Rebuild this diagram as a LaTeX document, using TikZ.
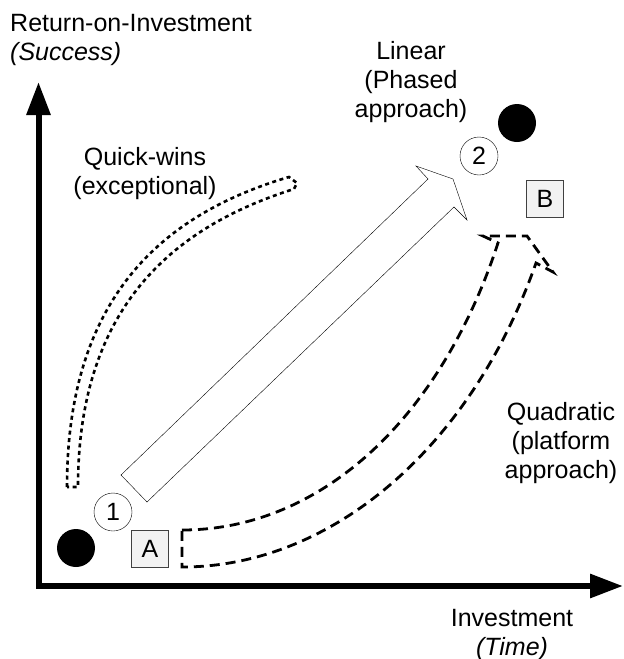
\documentclass[tikz,border=0pt]{standalone}
\usepackage{fontspec}
\setmainfont{Liberation Sans}
\usetikzlibrary{positioning}
\usetikzlibrary{arrows.meta}

\begin{document}
\begin{tikzpicture}[x=1pt, y=-1pt, font=\fontsize{25}{29}\selectfont,
axis/.style={line width=6pt, line join=miter},
dot/.style={circle, fill=black, inner sep=0pt, minimum size=38pt},
num/.style={circle, draw, thin, inner sep=0pt, minimum size=38pt},
tag/.style={draw=black!75, fill=black!5, thin, inner sep=0pt, minimum size=37pt},
lbl/.style={align=center, anchor=base, inner sep=0pt},
quick/.style={line width=2.6pt, dash pattern=on 4pt off 3.5pt},
quad/.style={line width=2.8pt, dash pattern=on 10pt off 6pt, line join=miter}]
\useasboundingbox (0,0) rectangle (624,659);

% axes
\coordinate (ytop) at (38.5,82);
\coordinate (origin) at (38.5,586);
\coordinate (xend) at (623,586);
\draw [axis, {Triangle[length=33pt,width=23pt]}-{Triangle[length=33pt,width=23pt]}] (ytop) -- (origin) -- (xend);

% labels sit on the baseline of their last line
\node [lbl, align=left, anchor=base west] (yl) at (10,60) {Return-on-Investment\\\textit{(Success)}};
\node [lbl] (xl) at (512,655) {Investment\\\textit{(Time)}};

% quick-wins
\coordinate (qa) at (67,487);
\coordinate (qb) at (289,177);
\coordinate (qtip) at (297,183);
\coordinate (qc) at (294,189);
\coordinate (qd) at (78,487);
\draw [quick] (qa) .. controls (67,300) and (160,215) .. (qb) -- (qtip) -- (qc)
  .. controls (170,228) and (78,310) .. (qd) -- cycle;
\node [lbl] (ql) at (145,194) {Quick-wins\\(exceptional)};

% linear
\coordinate (la) at (121,475);
\coordinate (lb) at (428,179);
\coordinate (lc) at (416,166);
\coordinate (ltip) at (453,179);
\coordinate (ld) at (467,220);
\coordinate (le) at (454,207);
\coordinate (lf) at (147,502);
\draw [thin, fill=white] (la) -- (lb) -- (lc) -- (ltip) -- (ld) -- (le) -- (lf) -- cycle;
\node [lbl] (ll) at (411,117) {Linear\\(Phased\\approach)};

% quadratic
\coordinate (ka) at (182,530);
\coordinate (kb) at (498,243);
\coordinate (kc) at (483,236);
\coordinate (kd) at (527,236);
\coordinate (ke) at (553,272);
\coordinate (kf) at (536,263);
\coordinate (kg) at (182,567);
\draw [quad] (ka) .. controls (320,530) and (440,420) .. (kb) -- (kc) -- (kd) -- (ke) -- (kf)
  .. controls (470,450) and (330,567) .. (kg) -- cycle;
\node [lbl] (kl) at (561,478) {Quadratic\\(platform\\approach)};

% markers
\node [dot] (dotA) at (76,548) {};
\node [dot] (dotB) at (517,123) {};
\node [num] (one) at (113,512) {1};
\node [num] (two) at (479,156) {2};
\node [tag] (boxA) at (150,549) {A};
\node [tag] (boxB) at (545,199) {B};
\end{tikzpicture}
\end{document}
